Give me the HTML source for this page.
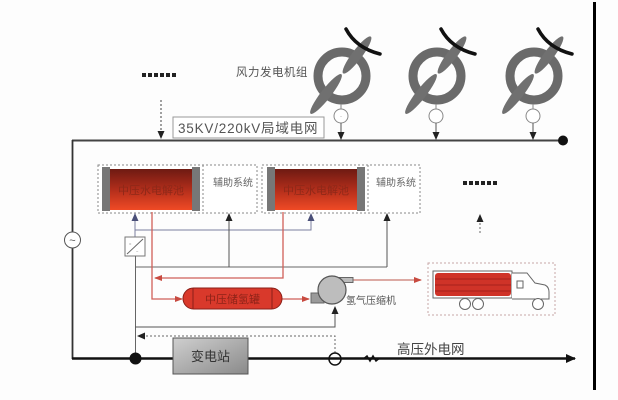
<!DOCTYPE html>
<html><head><meta charset="utf-8"><style>
html,body{margin:0;padding:0;background:#fdfdfd;}
svg{display:block;}
text{font-family:"Liberation Sans","Noto Sans CJK SC",sans-serif;}
</style></head><body>
<svg width="618" height="400" viewBox="0 0 618 400" xmlns="http://www.w3.org/2000/svg">
<defs>
<linearGradient id="el" x1="0" y1="0" x2="0" y2="1">
<stop offset="0" stop-color="#6e1a12"/><stop offset="0.55" stop-color="#b8301c"/><stop offset="1" stop-color="#f04a25"/>
</linearGradient>
<linearGradient id="sub" x1="0" y1="0" x2="1" y2="1">
<stop offset="0" stop-color="#cfcfcf"/><stop offset="1" stop-color="#8a8a8a"/>
</linearGradient>
<marker id="ab" markerWidth="8" markerHeight="8" refX="7" refY="4" orient="auto" markerUnits="userSpaceOnUse"><path d="M0,0.5 L8,4 L0,7.5 Z" fill="#222"/></marker>
<marker id="abl" markerWidth="8" markerHeight="8" refX="7" refY="4" orient="auto" markerUnits="userSpaceOnUse"><path d="M0,0.5 L8,4 L0,7.5 Z" fill="#4a4f78"/></marker>
<marker id="ar" markerWidth="8" markerHeight="8" refX="7" refY="4" orient="auto" markerUnits="userSpaceOnUse"><path d="M0,1 L8,4 L0,7 Z" fill="#c84a40"/></marker>
<marker id="ak" markerWidth="10" markerHeight="10" refX="9" refY="5" orient="auto" markerUnits="userSpaceOnUse"><path d="M0,0.5 L10,5 L0,9.5 Z" fill="#111"/></marker>
</defs>

<!-- right vertical bar -->
<line x1="594.5" y1="2" x2="594.5" y2="390" stroke="#000" stroke-width="3"/>

<!-- top dots and label -->
<g fill="#222">
<rect x="142" y="73" width="4" height="4"/><rect x="148" y="73" width="4" height="4"/><rect x="154" y="73" width="4" height="4"/><rect x="160" y="73" width="4" height="4"/><rect x="166" y="73" width="4" height="4"/><rect x="172" y="73" width="4" height="4"/>
</g>
<line x1="161" y1="100" x2="161" y2="138" stroke="#444" stroke-width="1" stroke-dasharray="2,2" marker-end="url(#ab)"/>
<text x="236" y="76" font-size="11.5" fill="#555" letter-spacing="0.5">风力发电机组</text>

<!-- top bus -->
<line x1="72" y1="140.5" x2="563" y2="140.5" stroke="#444" stroke-width="2"/>
<circle cx="563" cy="140.5" r="5" fill="#111"/>
<rect x="173" y="117" width="151" height="21" fill="#fff" stroke="#999" stroke-width="1"/>
<text x="178" y="133" font-size="13.5" fill="#555" letter-spacing="0.8">35KV/220kV局域电网</text>

<!-- turbines -->
<g id="t1">
<circle cx="342" cy="76" r="24" fill="none" stroke="#6a6a6a" stroke-width="9"/>
<ellipse cx="326" cy="94" rx="25" ry="5" transform="rotate(-52 326 94)" fill="#707070"/>
<ellipse cx="357" cy="55" rx="23" ry="5" transform="rotate(-53 357 55)" fill="#707070"/>
<path d="M346,29 Q356,48 380,54" fill="none" stroke="#111" stroke-width="3.5" stroke-linecap="round"/>
<line x1="341" y1="104" x2="341" y2="109" stroke="#888" stroke-width="1"/>
<circle cx="341" cy="116" r="7" fill="#fff" stroke="#888" stroke-width="1"/>
<text x="341" y="118" font-size="4" fill="#888" text-anchor="middle">~</text>
<line x1="341" y1="123" x2="341" y2="139" stroke="#555" stroke-width="1" marker-end="url(#ab)"/>
</g>
<g transform="translate(95 0)">
<circle cx="342" cy="76" r="24" fill="none" stroke="#6a6a6a" stroke-width="9"/>
<ellipse cx="326" cy="94" rx="25" ry="5" transform="rotate(-52 326 94)" fill="#707070"/>
<ellipse cx="357" cy="55" rx="23" ry="5" transform="rotate(-53 357 55)" fill="#707070"/>
<path d="M346,29 Q356,48 380,54" fill="none" stroke="#111" stroke-width="3.5" stroke-linecap="round"/>
<line x1="341" y1="104" x2="341" y2="109" stroke="#888" stroke-width="1"/>
<circle cx="341" cy="116" r="7" fill="#fff" stroke="#888" stroke-width="1"/>
<line x1="341" y1="123" x2="341" y2="139" stroke="#555" stroke-width="1" marker-end="url(#ab)"/>
</g>
<g transform="translate(192 0)">
<circle cx="342" cy="76" r="24" fill="none" stroke="#6a6a6a" stroke-width="9"/>
<ellipse cx="326" cy="94" rx="25" ry="5" transform="rotate(-52 326 94)" fill="#707070"/>
<ellipse cx="357" cy="55" rx="23" ry="5" transform="rotate(-53 357 55)" fill="#707070"/>
<path d="M346,29 Q356,48 380,54" fill="none" stroke="#111" stroke-width="3.5" stroke-linecap="round"/>
<line x1="341" y1="104" x2="341" y2="109" stroke="#888" stroke-width="1"/>
<circle cx="341" cy="116" r="7" fill="#fff" stroke="#888" stroke-width="1"/>
<line x1="341" y1="123" x2="341" y2="139" stroke="#555" stroke-width="1" marker-end="url(#ab)"/>
</g>

<!-- left vertical & bottom bus -->
<line x1="72.5" y1="140" x2="72.5" y2="359" stroke="#333" stroke-width="1.8"/>
<circle cx="72.5" cy="240" r="8" fill="#fff" stroke="#555" stroke-width="1"/>
<text x="72.5" y="244" font-size="11" fill="#555" text-anchor="middle">~</text>
<line x1="72" y1="358.5" x2="575" y2="358.5" stroke="#111" stroke-width="2.5" marker-end="url(#ak)"/>

<!-- unit 1 -->
<rect x="98" y="165" width="159" height="48" fill="#fff" stroke="#888" stroke-width="1" stroke-dasharray="2,2"/>
<line x1="203" y1="165" x2="203" y2="213" stroke="#888" stroke-width="1" stroke-dasharray="2,2"/>
<rect x="107" y="169" width="86" height="41" fill="url(#el)"/>
<rect x="102" y="167" width="8" height="44" fill="#777"/>
<rect x="192" y="167" width="8" height="44" fill="#777"/>
<text x="151" y="194" font-size="11" fill="#8e2818" text-anchor="middle">中压水电解池</text>
<text x="213" y="186" font-size="10" fill="#666">辅助系统</text>

<!-- unit 2 -->
<rect x="262" y="165" width="158" height="48" fill="#fff" stroke="#888" stroke-width="1" stroke-dasharray="2,2"/>
<line x1="368" y1="165" x2="368" y2="213" stroke="#888" stroke-width="1" stroke-dasharray="2,2"/>
<rect x="272" y="169" width="86" height="41" fill="url(#el)"/>
<rect x="267" y="167" width="8" height="44" fill="#777"/>
<rect x="357" y="167" width="8" height="44" fill="#777"/>
<text x="316" y="194" font-size="11" fill="#8e2818" text-anchor="middle">中压水电解池</text>
<text x="376" y="186" font-size="10" fill="#666">辅助系统</text>

<!-- right dots -->
<g fill="#222">
<rect x="463" y="181" width="4" height="4"/><rect x="469" y="181" width="4" height="4"/><rect x="475" y="181" width="4" height="4"/><rect x="481" y="181" width="4" height="4"/><rect x="487" y="181" width="4" height="4"/><rect x="493" y="181" width="4" height="4"/>
</g>
<line x1="480" y1="233" x2="480" y2="215" stroke="#666" stroke-width="1" stroke-dasharray="2,2" marker-end="url(#ab)"/>

<!-- gray control lines -->
<line x1="135" y1="237" x2="135" y2="214" stroke="#7a7fa0" stroke-width="1" marker-end="url(#abl)"/>
<polyline points="135,230 311,230 311,214" fill="none" stroke="#7a7fa0" stroke-width="1" marker-end="url(#abl)"/>
<rect x="125" y="237" width="20" height="19" fill="#fff" stroke="#777" stroke-width="1"/>
<line x1="127" y1="254" x2="143" y2="239" stroke="#666" stroke-width="1"/>
<text x="129" y="245" font-size="4" fill="#666">=</text>
<text x="136" y="253" font-size="4" fill="#666">~</text>
<line x1="135.5" y1="256" x2="135.5" y2="358" stroke="#666" stroke-width="1"/>
<line x1="135" y1="267" x2="387" y2="267" stroke="#666" stroke-width="1"/>
<line x1="229" y1="267" x2="229" y2="214" stroke="#555" stroke-width="1" marker-end="url(#ab)"/>
<line x1="387" y1="267" x2="387" y2="214" stroke="#555" stroke-width="1" marker-end="url(#ab)"/>
<polyline points="135,327 335,327 335,307" fill="none" stroke="#555" stroke-width="1" marker-end="url(#ab)"/>
<polyline points="335,353 335,336 138,336" fill="none" stroke="#666" stroke-width="1" stroke-dasharray="2,2" marker-end="url(#ab)"/>

<!-- red hydrogen lines -->
<polyline points="152,212 152,299 182,299" fill="none" stroke="#d06058" stroke-width="1.3" marker-end="url(#ar)"/>
<polyline points="283,212 283,278 155,278" fill="none" stroke="#d06058" stroke-width="1.3" marker-end="url(#ar)"/>
<line x1="282" y1="299" x2="309" y2="299" stroke="#d06058" stroke-width="1.3" marker-end="url(#ar)"/>
<line x1="353" y1="280" x2="421" y2="280" stroke="#c87a70" stroke-width="1.3" marker-end="url(#ar)"/>

<!-- tank -->
<rect x="183" y="288" width="99" height="21" rx="10.5" fill="#d9392b" stroke="#8a1f18" stroke-width="1"/>
<line x1="193" y1="288.5" x2="193" y2="308.5" stroke="#8a1f18" stroke-width="1"/>
<line x1="272" y1="288.5" x2="272" y2="308.5" stroke="#8a1f18" stroke-width="1"/>
<text x="232.5" y="303" font-size="11" fill="#8e2318" text-anchor="middle">中压储氢罐</text>

<!-- compressor -->
<rect x="311" y="293" width="13" height="10" fill="#9a9a9a" stroke="#666" stroke-width="1"/>
<rect x="336" y="277.5" width="17" height="5" fill="#bbb" stroke="#666" stroke-width="1"/>
<circle cx="332" cy="290" r="14" fill="#bdbdbd" stroke="#555" stroke-width="1.2"/>
<text x="346" y="304" font-size="10" fill="#555">氢气压缩机</text>

<!-- truck -->
<rect x="428" y="263" width="127" height="52" fill="none" stroke="#c8a6a6" stroke-width="1" stroke-dasharray="2,2"/>
<rect x="433" y="271" width="79" height="27" fill="#fff" stroke="#666" stroke-width="1"/>
<rect x="435" y="273" width="76" height="23" rx="3" fill="#cf3328"/>
<g stroke="#9a1e18" stroke-width="0.8">
<line x1="435" y1="279" x2="511" y2="279"/><line x1="435" y1="285" x2="511" y2="285"/><line x1="435" y1="291" x2="511" y2="291"/>
</g>
<path d="M512,273 L527,273 L535,283 L545,285 Q549,287 549,292 L549,299 L512,299" fill="#fff" stroke="#666" stroke-width="1"/>
<rect x="517" y="281" width="6" height="7" fill="#fff" stroke="#666" stroke-width="1"/>
<circle cx="465" cy="304" r="5.5" fill="#fff" stroke="#666" stroke-width="1"/>
<circle cx="478" cy="304" r="5.5" fill="#fff" stroke="#666" stroke-width="1"/>
<circle cx="538" cy="304" r="5.5" fill="#fff" stroke="#666" stroke-width="1"/>

<!-- bottom elements -->
<circle cx="135.5" cy="358.5" r="6" fill="#111"/>
<rect x="173" y="338" width="75" height="36" fill="url(#sub)" stroke="#555" stroke-width="1"/>
<text x="210.5" y="361" font-size="13" fill="#333" text-anchor="middle">变电站</text>
<circle cx="335" cy="359" r="6" fill="none" stroke="#111" stroke-width="1.5"/>
<polyline points="364,358.5 367,356 370,361 373,356 376,361 379,358.5" fill="none" stroke="#111" stroke-width="1.5"/>
<text x="397" y="354" font-size="13.5" fill="#444">高压外电网</text>
</svg>
</body></html>
